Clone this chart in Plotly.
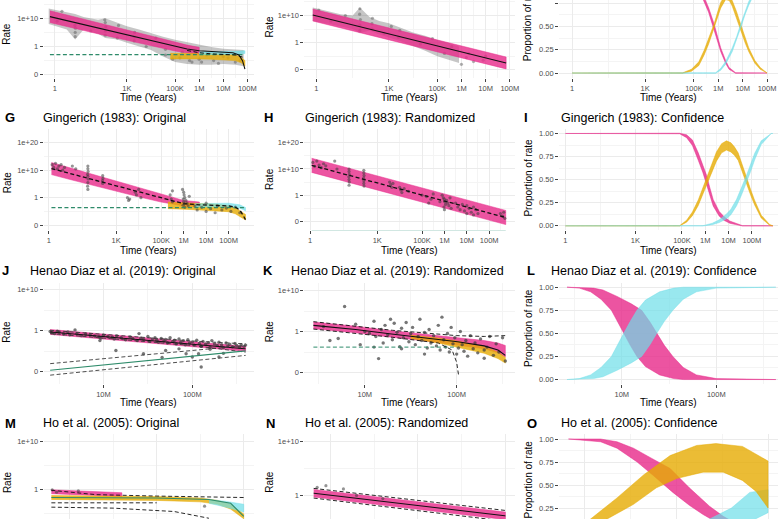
import plotly.graph_objects as go

W, H = 782, 521

# ---------------- colours ----------------
PINK = "rgba(231,41,138,0.80)"
YEL = "rgba(230,171,2,0.80)"
CYAN = "rgba(110,222,232,0.70)"
CLOUD = "rgba(105,105,105,0.38)"
PT = "rgba(60,60,60,0.55)"
GREEN = "#2E8B6A"
TEAL = "#6AB0A2"
BLACK = "#111111"
DGRAY = "#3a3a3a"

# ---------------- tick definitions ----------------
TIME_TICKS = [0, 3, 5, 6, 7, 8]
TIME_TEXT = ["1", "1K", "100K", "1M", "10M", "100M"]
TIME_MINOR = [1.5, 4, 5.5, 6.5, 7.5, 8.5]
HD_TICKS = [7, 8]
HD_TEXT = ["10M", "100M"]
HD_MINOR = [6.5, 7.5, 8.5]
HO_TICKS = [5, 6, 7]
HO_MINOR = [4.5, 5.5, 6.5]
RATE_TICKS = [0, 1, 2, 3]
RATE_TEXT = ["0", "1", "1e+10", "1e+20"]
RATE_MINOR = [-0.5, 0.5, 1.5, 2.5]
PROP_TICKS = [0, 0.25, 0.5, 0.75, 1.0]
PROP_TEXT = ["0.00", "0.25", "0.50", "0.75", "1.00"]
PROP_MINOR = [0.125, 0.375, 0.625, 0.875]

# ---------------- data (x = log10 years, y = display units) ----------------
# Panel D (top-left, original, cut)
d_cloud_lx = [-0.25, 0.5, 0.85, 1.2, 1.8, 2.1, 2.6, 3.0, 3.5, 4.0, 4.5, 5.0, 5.5, 6.0, 6.5, 7.0, 7.5, 7.85]
d_cloud_hi = [2.35, 2.2, 2.15, 2.05, 1.95, 2.0, 1.85, 1.72, 1.6, 1.47, 1.35, 1.24, 1.15, 1.06, 0.98, 0.92, 0.9, 0.88]
d_cloud_lo = [1.8, 1.6, 1.25, 1.6, 1.45, 1.3, 1.25, 1.13, 1.0, 0.88, 0.65, 0.45, 0.38, 0.35, 0.35, 0.38, 0.35, 0.3]
d_pts_lx = [0.85, 0.85, 0.86, 0.84, 2.1, 2.1, 2.12, 2.1, 2.08, 3.3, 3.3, 3.32, 4.6, 4.6, 5.2, 5.3, 5.6, 6.0, 6.1,
            6.3, 6.6, 7.2, 7.5, 0.1, 0.3, 1.5, 2.6, 2.65, 3.8, 4.2, 4.9, 5.7, 6.8, 7.0, 7.7]
d_pts_v = [1.35, 1.5, 1.65, 1.75, 1.4, 1.55, 1.7, 1.85, 1.95, 1.2, 1.35, 1.5, 0.7, 0.9, 0.6, 0.8, 0.5, 0.55, 0.45,
           0.7, 0.5, 0.6, 0.45, 1.9, 2.25, 1.55, 1.3, 1.75, 1.0, 1.3, 0.55, 0.45, 0.4, 0.65, 0.5]
d_pink_lx = [-0.2, 1, 2, 3, 4, 5, 5.5, 6.0]
d_pink_c = [2.06, 1.82, 1.61, 1.41, 1.2, 1.0, 0.91, 0.85]
d_pink_hw = [0.21, 0.2, 0.2, 0.19, 0.18, 0.16, 0.14, 0.12]
d_black_lx = [-0.2, 1, 2, 3, 4, 5, 5.5, 6.0, 6.5, 7.0, 7.4, 7.65, 7.8, 7.9]
d_black_v = [2.06, 1.82, 1.61, 1.41, 1.2, 1.0, 0.91, 0.85, 0.82, 0.8, 0.78, 0.7, 0.5, 0.2]
d_bdash_lx = [5.5, 6.0, 6.5, 7.0, 7.5, 7.9]
d_bdash_v = [0.86, 0.78, 0.74, 0.72, 0.7, 0.6]
d_gdash_lx = [-0.2, 7.9]
d_gdash_v = [0.71, 0.71]
d_yel_lx = [4.8, 5.5, 6.0, 6.5, 7.0, 7.5, 7.75, 7.9]
d_yel_c = [0.66, 0.66, 0.66, 0.65, 0.63, 0.6, 0.52, 0.4]
d_yel_hw = [0.1, 0.1, 0.1, 0.1, 0.1, 0.1, 0.1, 0.1]
d_cyan_lx = [6.0, 6.5, 7.0, 7.5, 7.9]
d_cyan_c = [0.76, 0.76, 0.77, 0.78, 0.8]
d_cyan_hw = [0.05, 0.05, 0.05, 0.05, 0.05]

# Panel E (top-middle, randomized, cut)
e_cloud_lx = [-0.15, 0.5, 1.0, 1.5, 1.8, 2.2, 2.6, 3.0, 3.5, 4.0, 4.5, 5.0, 5.5, 5.9]
e_cloud_hi = [2.3, 2.15, 2.05, 2.0, 2.3, 1.95, 1.8, 1.72, 1.55, 1.37, 1.25, 1.1, 0.98, 0.86]
e_cloud_lo = [1.8, 1.7, 1.6, 1.5, 1.35, 1.45, 1.3, 1.19, 1.05, 0.88, 0.7, 0.5, 0.35, 0.25]
e_pts_lx = [1.8, 1.8, 1.82, 1.79, 1.8, 2.3, 2.3, 2.32, 3.4, 3.45, 6.0, 6.2, 6.3, 6.5, 6.9, 7.0,
            0.1, 0.6, 1.2, 2.8, 3.1, 4.3, 4.8, 5.3, 5.6]
e_pts_v = [1.45, 1.65, 1.85, 2.05, 2.25, 1.5, 1.7, 1.9, 1.2, 1.45, 0.2, 0.45, 0.6, 0.3, 0.35, 0.5,
           2.2, 1.8, 2.0, 1.35, 1.6, 0.95, 1.15, 0.6, 0.85]
e_pink_lx = [-0.15, 7.85]
e_pink_c = [2.02, 0.25]
e_pink_hw = [0.22, 0.22]
e_teal_lx = [-0.15, 7.85]
e_teal_v = [-0.33, -0.33]

# Panel F (top-right, confidence, cut)
f_pink_lx = [0, 4.6, 5.0, 5.2, 5.42, 5.6, 5.83, 6.0, 6.1, 6.3, 6.44, 6.71, 8.0]
f_pink_c = [1.0, 1.0, 0.97, 0.92, 0.79, 0.68, 0.5, 0.34, 0.25, 0.12, 0.05, 0.0, 0.0]
f_pink_hw = [0.0, 0.005, 0.015, 0.02, 0.025, 0.025, 0.025, 0.025, 0.02, 0.015, 0.01, 0.003, 0.0]
f_yel_lx = [0, 4.54, 4.9, 5.2, 5.42, 5.6, 5.83, 6.0, 6.1, 6.3, 6.45, 6.57, 6.75, 6.91, 7.1, 7.25, 7.5, 7.72, 8.0]
f_yel_c = [0, 0.0, 0.03, 0.1, 0.22, 0.34, 0.5, 0.65, 0.73, 0.82, 0.81, 0.75, 0.63, 0.5, 0.35, 0.25, 0.12, 0.05, 0.0]
f_yel_hw = [0, 0.003, 0.01, 0.02, 0.025, 0.03, 0.03, 0.03, 0.03, 0.03, 0.03, 0.03, 0.03, 0.03, 0.025, 0.02, 0.015, 0.01, 0.0]
f_cyan_lx = [0, 5.89, 6.1, 6.3, 6.57, 6.75, 6.91, 7.1, 7.25, 7.5, 7.72, 8.0]
f_cyan_c = [0, 0.0, 0.04, 0.11, 0.25, 0.37, 0.5, 0.65, 0.75, 0.88, 0.95, 0.99]
f_cyan_hw = [0, 0.003, 0.01, 0.015, 0.02, 0.02, 0.02, 0.02, 0.02, 0.015, 0.01, 0.005]

# Panel G
g_pts_lx = [0.15, 0.22, 0.3, 0.38, 0.45, 0.55, 0.62, 0.7, 1.05, 1.2,
            1.74, 1.74, 1.75, 1.73, 1.74, 1.75, 1.74, 1.73, 1.74,
            2.4, 2.41, 2.39, 2.4, 3.5, 3.55, 3.6, 3.85, 3.9, 4.0, 4.1,
            5.4, 5.45, 5.5, 5.5, 5.95, 6.0, 6.02, 6.05, 5.98, 6.0, 6.03, 5.97, 6.05, 6.1, 6.15, 6.2, 6.25,
            6.5, 6.6, 6.8, 7.0, 7.0, 7.2, 7.4, 7.5, 7.7, 7.9, 8.1, 8.3, 8.5]
g_pts_v = [2.2, 2.1, 2.25, 2.05, 2.15, 2.2, 2.0, 2.1, 2.15, 2.05,
           2.15, 2.05, 1.95, 1.85, 1.78, 1.68, 1.55, 1.42, 1.3,
           1.8, 1.7, 1.62, 1.52, 1.0, 0.9, 0.95, 1.2, 1.1, 1.3, 1.0,
           1.1, 0.95, 1.25, 0.85, 1.3, 1.2, 1.1, 1.0, 0.95, 0.85, 0.78, 0.72, 0.65, 0.9, 0.8, 0.7, 1.05,
           0.7, 0.55, 0.65, 0.5, 0.8, 0.6, 0.45, 0.7, 0.55, 0.62, 0.5, 0.66, 0.45]
g_pink_lx = [0.12, 1, 2, 3, 4, 5, 5.5, 6.0, 6.7]
g_pink_c = [2.06, 1.86, 1.64, 1.42, 1.2, 0.98, 0.88, 0.8, 0.76]
g_pink_hw = [0.22, 0.21, 0.2, 0.19, 0.17, 0.14, 0.12, 0.1, 0.08]
g_bdash_lx = [0.12, 5.5, 6.0, 6.7, 7.5, 8.0, 8.3, 8.5, 8.65, 8.75]
g_bdash_v = [2.06, 0.88, 0.78, 0.74, 0.72, 0.7, 0.65, 0.55, 0.35, 0.2]
g_gdash_lx = [0.12, 8.75]
g_gdash_v = [0.64, 0.64]
g_yel_lx = [5.3, 6.0, 6.5, 7.0, 7.5, 8.0, 8.3, 8.5, 8.75]
g_yel_c = [0.72, 0.7, 0.68, 0.66, 0.64, 0.6, 0.52, 0.42, 0.29]
g_yel_hw = [0.12, 0.12, 0.12, 0.12, 0.12, 0.11, 0.11, 0.1, 0.1]
g_cyan_lx = [6.5, 7.0, 7.5, 8.0, 8.5, 8.75]
g_cyan_c = [0.72, 0.73, 0.74, 0.74, 0.68, 0.58]
g_cyan_hw = [0.06, 0.06, 0.06, 0.06, 0.06, 0.06]

# Panel H
h_pts_lx = [0.12, 0.2, 0.3, 0.4, 0.5, 0.6, 0.7, 1.1, 1.2,
            1.74, 1.74, 1.75, 1.73, 1.74, 1.75, 1.74,
            2.4, 2.4, 2.41, 2.39, 2.4, 2.4, 2.41,
            3.55, 3.6, 3.65, 3.7, 4.0, 4.05, 4.1, 4.2, 4.4,
            5.0, 5.2, 5.4, 5.5, 5.3,
            5.9, 5.95, 6.0, 6.02, 6.05, 5.98, 6.0, 6.1, 6.15, 6.2, 6.25, 6.3, 5.8,
            6.5, 6.6, 6.7, 6.8, 6.9, 7.0, 7.0, 7.1, 7.2, 7.3, 7.4, 7.5, 7.3,
            8.5, 8.6, 8.7, 8.65]
h_pts_v = [2.25, 2.1, 2.3, 2.15, 2.05, 2.2, 2.12, 2.3, 2.0,
           2.0, 1.9, 1.8, 1.7, 1.6, 1.5, 1.38,
           1.95, 1.85, 1.75, 1.65, 1.55, 1.45, 1.35,
           1.5, 1.4, 1.3, 1.45, 1.3, 1.2, 1.1, 1.25, 1.15,
           1.0, 0.95, 0.85, 1.05, 0.7,
           1.0, 0.9, 0.85, 0.75, 0.65, 0.55, 0.45, 0.8, 0.7, 0.6, 0.9, 0.5, 0.75,
           0.7, 0.55, 0.45, 0.65, 0.4, 0.6, 0.3, 0.5, 0.35, 0.55, 0.45, 0.3, 0.25,
           0.3, 0.2, 0.12, 0.35]
h_pink_lx = [0.07, 8.74]
h_pink_c = [2.14, 0.15]
h_pink_hw = [0.27, 0.27]
h_teal_lx = [0.07, 8.74]
h_teal_v = [-0.36, -0.36]

# Panel I
i_pink_lx = [0, 4.9, 5.2, 5.45, 5.7, 5.9, 6.06, 6.2, 6.34, 6.6, 6.8, 7.05, 7.3, 7.6, 8.9]
i_pink_c = [1.0, 1.0, 0.97, 0.9, 0.75, 0.62, 0.5, 0.37, 0.25, 0.13, 0.08, 0.04, 0.02, 0.0, 0.0]
i_pink_hw = [0, 0.003, 0.015, 0.03, 0.04, 0.045, 0.045, 0.04, 0.035, 0.025, 0.02, 0.012, 0.006, 0.002, 0]
i_yel_lx = [0, 4.9, 5.2, 5.45, 5.7, 5.9, 6.08, 6.3, 6.48, 6.7, 6.91, 7.1, 7.25, 7.41, 7.6, 7.76, 7.95, 8.12, 8.4, 8.76, 8.9]
i_yel_c = [0, 0.0, 0.05, 0.13, 0.25, 0.38, 0.5, 0.64, 0.75, 0.84, 0.87, 0.85, 0.81, 0.75, 0.62, 0.5, 0.36, 0.25, 0.1, 0.01, 0.0]
i_yel_hw = [0, 0.002, 0.01, 0.02, 0.03, 0.035, 0.04, 0.045, 0.05, 0.05, 0.05, 0.05, 0.045, 0.04, 0.04, 0.035, 0.03, 0.025, 0.015, 0.005, 0]
i_cyan_lx = [0, 5.9, 6.3, 6.6, 6.9, 7.1, 7.34, 7.55, 7.76, 7.95, 8.12, 8.4, 8.83, 8.9]
i_cyan_c = [0, 0.0, 0.02, 0.05, 0.1, 0.15, 0.25, 0.37, 0.5, 0.63, 0.75, 0.9, 1.0, 1.0]
i_cyan_hw = [0, 0.002, 0.008, 0.015, 0.025, 0.03, 0.035, 0.04, 0.04, 0.04, 0.035, 0.02, 0.0, 0.0]

# Panel J
j_pts_lx = [6.40, 6.42, 6.45, 6.48, 6.5, 6.55, 6.6, 6.62, 6.68, 6.7, 6.75, 6.8, 6.85, 6.9, 6.95, 6.97,
            7.0, 7.05, 7.1, 7.12, 7.15, 7.2, 7.25, 7.3, 7.33, 7.38, 7.4, 7.42, 7.45, 7.5, 7.52, 7.55,
            7.58, 7.6, 7.62, 7.65, 7.68, 7.7, 7.72, 7.75, 7.78, 7.8, 7.82, 7.85, 7.87, 7.9, 7.92, 7.95,
            7.97, 8.0, 8.02, 8.05, 8.08, 8.1, 8.12, 8.15, 8.18, 8.2, 8.22, 8.25, 8.28, 8.3, 8.33, 8.35,
            8.38, 8.4, 8.42, 8.45, 8.48, 8.5, 8.53, 8.55, 8.58, 8.6,
            7.14, 7.45, 7.66, 7.7, 7.85, 7.93, 8.0, 8.07, 8.1, 8.2, 8.3, 8.35, 8.1, 6.96]
j_pts_v = [0.98, 0.95, 0.93, 0.99, 0.96, 0.92, 0.97, 0.9, 1.02, 0.93, 0.88, 0.92, 0.9, 0.87, 0.85, 0.82,
           0.89, 0.86, 0.84, 0.8, 0.87, 0.83, 0.78, 0.85, 0.81, 0.76, 0.93, 0.82, 0.79, 0.86, 0.74, 0.8,
           0.83, 0.77, 0.72, 0.81, 0.75, 0.79, 0.7, 0.83, 0.74, 0.77, 0.68, 0.8, 0.72, 0.76, 0.66, 0.78,
           0.7, 0.73, 0.65, 0.77, 0.69, 0.62, 0.74, 0.67, 0.71, 0.6, 0.76, 0.68, 0.64, 0.72, 0.66, 0.59,
           0.7, 0.63, 0.67, 0.61, 0.69, 0.64, 0.6, 0.66, 0.62, 0.65,
           0.52, 0.44, 0.35, 0.52, 0.56, 0.44, 0.36, 0.44, 0.62, 0.55, 0.36, 0.45, 0.12, 0.76]
j_pink_lx = [6.4, 8.6]
j_pink_c = [0.97, 0.56]
j_pink_hw = [0.06, 0.06]
j_bup_lx = [6.4, 7.5, 8.0, 8.6]
j_bup_v = [1.01, 0.83, 0.75, 0.68]
j_blo_lx = [6.4, 7.5, 8.0, 8.6]
j_blo_v = [0.93, 0.74, 0.64, 0.48]
j_green_lx = [6.4, 8.6]
j_green_v = [0.04, 0.51]
j_gup_v = [0.2, 0.64]
j_glo_v = [-0.08, 0.4]

# Panel K
k_pts_lx = [6.55, 6.62, 6.71, 6.78, 6.9, 6.95, 7.0, 7.05, 7.1, 7.12, 7.15, 7.18, 7.2, 7.22, 7.25, 7.28,
            7.3, 7.32, 7.35, 7.38, 7.4, 7.42, 7.45, 7.48, 7.5, 7.52, 7.55, 7.58, 7.6, 7.62, 7.65, 7.68,
            7.7, 7.72, 7.75, 7.78, 7.8, 7.82, 7.84, 7.86, 7.88, 7.9, 7.92, 7.94, 7.96, 7.98, 8.0, 8.02,
            8.04, 8.06, 8.08, 8.1, 8.12, 8.15, 8.18, 8.2, 8.23, 8.26, 8.3, 8.33, 8.36, 8.4, 8.43, 8.46,
            8.5, 8.53, 8.3, 7.65, 7.4, 7.1]
k_pts_v = [1.12, 0.78, 0.83, 1.61, 1.18, 0.68, 1.0, 0.95, 1.25, 0.88, 0.34, 1.05, 0.72, 1.15, 0.92, 1.3,
           0.8, 1.2, 0.98, 0.63, 1.08, 0.85, 1.22, 0.75, 0.95, 1.1, 0.68, 0.88, 1.3, 0.78, 0.98, 0.6,
           1.05, 0.72, 0.9, 0.65, 1.15, 0.55, 1.35, 0.8, 0.62, 0.95, 0.5, 1.1, 0.7, 0.85, 0.45, 0.6,
           1.0, 0.68, 0.52, 0.78, 0.4, 0.9, 0.58, 0.72, 0.48, 0.82, 0.55, 0.62, 0.88, 0.42, 0.7, 0.5,
           0.85, 0.28, 0.35, 0.45, 0.58, 0.62]
k_pink_lx = [6.44, 6.9, 7.29, 7.7, 8.01, 8.3, 8.45, 8.53]
k_pink_c = [1.15, 1.05, 0.94, 0.84, 0.76, 0.68, 0.6, 0.52]
k_pink_hw = [0.08, 0.08, 0.08, 0.08, 0.09, 0.1, 0.12, 0.14]
k_black_v = [1.15, 1.05, 0.94, 0.84, 0.75, 0.65, 0.55, 0.42]
k_bup_lx = [6.44, 7.3, 8.0, 8.3, 8.53]
k_bup_v = [1.24, 1.03, 0.9, 0.88, 0.9]
k_blo_lx = [6.44, 7.3, 7.8, 7.95, 8.0, 8.02]
k_blo_v = [1.06, 0.86, 0.72, 0.55, 0.25, -0.05]
k_yel_lx = [7.5, 7.8, 8.0, 8.3, 8.45, 8.53]
k_yel_c = [0.87, 0.78, 0.7, 0.55, 0.42, 0.3]
k_yel_hw = [0.04, 0.06, 0.07, 0.08, 0.08, 0.07]
k_gdash_lx = [6.44, 8.0]
k_gdash_v = [0.62, 0.62]

# Panel L
l_pink_up_lx = [6.42, 6.7, 6.8, 6.95, 7.1, 7.21, 7.3, 7.37, 7.45, 7.54, 7.65, 7.79, 8.0, 8.63]
l_pink_up_v = [1.0, 0.99, 0.97, 0.9, 0.82, 0.75, 0.62, 0.5, 0.37, 0.25, 0.13, 0.05, 0.01, 0.0]
l_pink_lo_lx = [6.42, 6.55, 6.67, 6.78, 6.89, 6.95, 7.02, 7.09, 7.16, 7.25, 7.4, 7.55, 7.65, 8.63]
l_pink_lo_v = [1.0, 0.99, 0.95, 0.87, 0.75, 0.63, 0.5, 0.37, 0.25, 0.14, 0.05, 0.01, 0.0, 0.0]
l_cyan_lo_v = [0.0, 0.01, 0.03, 0.1, 0.18, 0.25, 0.38, 0.5, 0.63, 0.75, 0.87, 0.95, 0.99, 1.0]
l_cyan_hi_v = [0.0, 0.01, 0.05, 0.13, 0.25, 0.37, 0.5, 0.63, 0.75, 0.86, 0.95, 0.99, 1.0, 1.0]

# Panel M
m_pink_lx = [4.79, 5.2, 5.6]
m_pink_c = [0.96, 0.93, 0.9]
m_pink_hw = [0.04, 0.04, 0.04]
m_yel_lx = [4.79, 5.5, 6.0, 6.5, 6.7, 6.85, 7.0]
m_yel_c = [0.84, 0.83, 0.82, 0.79, 0.74, 0.65, 0.45]
m_yel_hw = [0.04, 0.04, 0.04, 0.04, 0.04, 0.05, 0.05]
m_cyan_lx = [6.6, 6.8, 7.0]
m_cyan_c = [0.76, 0.7, 0.62]
m_cyan_hw = [0.04, 0.06, 0.08]
m_green_lx = [4.79, 6.0, 6.6, 6.85, 7.0]
m_green_v = [0.84, 0.83, 0.8, 0.72, 0.45]
m_bup_lx = [4.79, 5.3, 6.0, 7.0]
m_bup_v = [0.99, 0.9, 0.87, 0.84]
m_blo1_lx = [4.79, 6.0]
m_blo1_v = [0.73, 0.73]
m_blo2_lx = [4.79, 5.5, 6.2, 6.6]
m_blo2_v = [0.64, 0.62, 0.55, 0.41]
m_pts_lx = [4.8, 4.85, 5.1, 6.55]
m_pts_v = [1.0, 0.95, 0.98, 0.66]

# Panel N
n_pink_lx = [4.81, 7.0]
n_pink_c = [1.04, 0.62]
n_pink_hw = [0.07, 0.07]
n_bup_v = [1.13, 0.72]
n_blo_v = [0.95, 0.52]
n_pts_lx = [4.85, 4.95, 5.15, 5.3, 5.6]
n_pts_v = [1.15, 1.18, 1.12, 1.0, 0.94]

# Panel O
o_pink_up_lx = [4.82, 5.17, 5.35, 5.53, 5.71, 5.93, 6.14, 6.36, 6.51, 6.62, 6.8, 7.0]
o_pink_up_v = [1.0, 1.0, 0.97, 0.9, 0.8, 0.68, 0.47, 0.27, 0.16, 0.1, 0.05, 0.02]
o_pink_lo_lx = [4.82, 5.17, 5.35, 5.57, 5.75, 5.96, 6.14, 6.29, 6.43, 6.6, 6.8, 7.0]
o_pink_lo_v = [1.0, 0.97, 0.9, 0.75, 0.6, 0.42, 0.28, 0.18, 0.1, 0.05, 0.02, 0.0]
o_yel_up_lx = [4.82, 5.06, 5.35, 5.64, 5.93, 6.22, 6.43, 6.72, 7.0]
o_yel_up_v = [0.0, 0.13, 0.36, 0.61, 0.82, 0.93, 0.95, 0.92, 0.76]
o_yel_lo_lx = [4.82, 5.24, 5.53, 5.78, 6.0, 6.29, 6.51, 6.72, 6.87, 7.0]
o_yel_lo_v = [0.0, 0.13, 0.29, 0.47, 0.57, 0.64, 0.64, 0.55, 0.43, 0.25]
o_cyan_up_lx = [6.0, 6.36, 6.6, 6.8, 7.0]
o_cyan_up_v = [0.0, 0.13, 0.25, 0.42, 0.45]
o_cyan_lo_lx = [6.0, 6.45, 6.8, 7.0]
o_cyan_lo_v = [0.0, 0.0, 0.1, 0.2]

# ---------------- panel geometry (pixels) and axis calibration ----------------
# rect = (x0, x1, ytop, ybottom); xcal = (px, lx, px/decade); ycal = (py, value, px/unit)
C1, C2, C3 = (44, 255), (306, 518), (562, 782)
R1, R2, R3, R4 = (0, 78), (129.4, 231.3), (283.7, 385.6), (436, 521)
panels = {
    1: dict(rect=C1 + R1, xcal=(55, 0, 24.2), ycal=(75, 0, 28.3), xk="time", yk="rate"),
    2: dict(rect=C2 + R1, xcal=(318, 0, 24.3), ycal=(70, 0, 27.2), xk="time", yk="rate"),
    3: dict(rect=C3 + R1, xcal=(575, 0, 24.5), ycal=(73.3, 0, 93.3), xk="time", yk="prop"),
    4: dict(rect=C1 + R2, xcal=(49, 0, 22.6), ycal=(226, 0, 27.57), xk="time", yk="rate"),
    5: dict(rect=C2 + R2, xcal=(311.7, 0, 22.5), ycal=(222.3, 0, 26.33), xk="time", yk="rate"),
    6: dict(rect=C3 + R2, xcal=(568.3, 0, 23.43), ycal=(226.7, 0, 92.7), xk="time", yk="prop"),
    7: dict(rect=C1 + R3, xcal=(104, 7, 89.3), ycal=(373.3, 0, 41.3), xk="hd", yk="rate"),
    8: dict(rect=C2 + R3, xcal=(366.7, 7, 92.3), ycal=(374, 0, 41.2), xk="hd", yk="rate"),
    9: dict(rect=C3 + R3, xcal=(625, 7, 95), ycal=(381, 0, 92.7), xk="hd", yk="prop"),
    10: dict(rect=C1 + R4, xcal=(70, 5, 87.5), ycal=(491.7, 1, 48.4), xk="ho", yk="rate"),
    11: dict(rect=C2 + R4, xcal=(332, 5, 88), ycal=(497.3, 1, 54), xk="ho", yk="rate"),
    12: dict(rect=C3 + R4, xcal=(680, 6, 92), ycal=(440.7, 1, 92.4), xk="ho", yk="prop"),
}

FONT = "Liberation Sans, Arial, Helvetica, sans-serif"
GRID = "#EBEBEB"
GRID_MINOR = "#F4F4F4"
TICKFONT = dict(size=7.5, color="#4D4D4D", family=FONT)

fig = go.Figure()
layout = dict(
    width=W, height=H, margin=dict(l=0, r=0, t=0, b=0),
    paper_bgcolor="white", plot_bgcolor="white", showlegend=False,
    font=dict(family=FONT, color="#000"),
)


def lx_at(p, px):
    c = p["xcal"]
    return c[1] + (px - c[0]) / c[2]


def v_at(p, py):
    c = p["ycal"]
    return c[1] + (c[0] - py) / c[2]


for k, p in panels.items():
    x0, x1, yt, yb = p["rect"]
    sfx = "" if k == 1 else str(k)
    if p["xk"] == "time":
        tv, tt, mv, show = TIME_TICKS, TIME_TEXT, TIME_MINOR, True
    elif p["xk"] == "hd":
        tv, tt, mv, show = HD_TICKS, HD_TEXT, HD_MINOR, True
    else:
        tv, tt, mv, show = HO_TICKS, [""] * len(HO_TICKS), HO_MINOR, False
    layout["xaxis" + sfx] = dict(
        domain=[x0 / W, x1 / W], anchor="y" + sfx, type="log",
        range=[lx_at(p, x0), lx_at(p, x1)],
        tickmode="array", tickvals=[10 ** t for t in tv], ticktext=tt,
        showgrid=True, gridcolor=GRID, gridwidth=1, zeroline=False, showline=False,
        ticks="outside" if show else "", ticklen=3, tickwidth=0.8, tickcolor="#444",
        showticklabels=show, tickfont=TICKFONT,
        minor=dict(tickvals=[10 ** t for t in mv], showgrid=True, gridcolor=GRID_MINOR, gridwidth=0.6, ticks=""),
        fixedrange=True,
    )
    if p["yk"] == "rate":
        tv, tt, mv = RATE_TICKS, RATE_TEXT, RATE_MINOR
    else:
        tv, tt, mv = PROP_TICKS, PROP_TEXT, PROP_MINOR
    layout["yaxis" + sfx] = dict(
        domain=[1 - yb / H, 1 - yt / H], anchor="x" + sfx,
        range=[v_at(p, yb), v_at(p, yt)],
        tickmode="array", tickvals=tv, ticktext=tt,
        showgrid=True, gridcolor=GRID, gridwidth=1, zeroline=False, showline=False,
        ticks="outside", ticklen=3, tickwidth=0.8, tickcolor="#444",
        tickfont=TICKFONT,
        minor=dict(tickvals=mv, showgrid=True, gridcolor=GRID_MINOR, gridwidth=0.6, ticks=""),
        fixedrange=True,
    )


def ax(k):
    s = "" if k == 1 else str(k)
    return dict(xaxis="x" + s, yaxis="y" + s)


def band_ul(k, lx_up, v_up, lx_lo, v_lo, color, lw=0.6):
    xs = [10 ** a for a in lx_up] + [10 ** a for a in lx_lo[::-1]]
    ys = list(v_up) + list(v_lo[::-1])
    fig.add_trace(go.Scatter(x=xs, y=ys, mode="lines", fill="toself", fillcolor=color,
                             line=dict(color=color, width=lw), hoverinfo="skip", **ax(k)))


def band_c(k, lx, c, hw, color, lw=0.6):
    up = [a + b for a, b in zip(c, hw)]
    lo = [a - b for a, b in zip(c, hw)]
    band_ul(k, lx, up, lx, lo, color, lw)


def line(k, lx, v, color, width=1.0, dash="solid"):
    fig.add_trace(go.Scatter(x=[10 ** a for a in lx], y=list(v), mode="lines",
                             line=dict(color=color, width=width, dash=dash), hoverinfo="skip", **ax(k)))


def pts(k, lx, v, color=PT, size=3.2):
    fig.add_trace(go.Scatter(x=[10 ** a for a in lx], y=list(v), mode="markers",
                             marker=dict(color=color, size=size, line=dict(width=0)), hoverinfo="skip", **ax(k)))


DASH = "4px,2.5px"

# Panel 1 (D)
band_ul(1, d_cloud_lx, d_cloud_hi, d_cloud_lx, d_cloud_lo, CLOUD, lw=0)
pts(1, d_pts_lx, d_pts_v, "rgba(80,80,80,0.45)")
band_c(1, d_pink_lx, d_pink_c, d_pink_hw, PINK)
band_c(1, d_yel_lx, d_yel_c, d_yel_hw, YEL)
band_c(1, d_cyan_lx, d_cyan_c, d_cyan_hw, CYAN)
line(1, d_gdash_lx, d_gdash_v, GREEN, 1.2, DASH)
line(1, d_bdash_lx, d_bdash_v, BLACK, 1.0, DASH)
line(1, d_black_lx, d_black_v, BLACK, 1.1)

# Panel 2 (E)
band_ul(2, e_cloud_lx, e_cloud_hi, e_cloud_lx, e_cloud_lo, CLOUD, lw=0)
pts(2, e_pts_lx, e_pts_v, "rgba(80,80,80,0.45)")
band_c(2, e_pink_lx, e_pink_c, e_pink_hw, PINK)
line(2, e_pink_lx, e_pink_c, BLACK, 1.1)
line(2, e_teal_lx, e_teal_v, TEAL, 1.0)

# Panel 3 (F)
band_c(3, f_pink_lx, f_pink_c, f_pink_hw, PINK)
band_c(3, f_yel_lx, f_yel_c, f_yel_hw, YEL)
band_c(3, f_cyan_lx, f_cyan_c, f_cyan_hw, CYAN)

# Panel 4 (G)
band_c(4, g_pink_lx, g_pink_c, g_pink_hw, PINK)
band_c(4, g_yel_lx, g_yel_c, g_yel_hw, YEL)
band_c(4, g_cyan_lx, g_cyan_c, g_cyan_hw, CYAN)
pts(4, g_pts_lx, g_pts_v)
line(4, g_gdash_lx, g_gdash_v, GREEN, 1.2, DASH)
line(4, g_bdash_lx, g_bdash_v, BLACK, 1.3, DASH)

# Panel 5 (H)
band_c(5, h_pink_lx, h_pink_c, h_pink_hw, PINK)
pts(5, h_pts_lx, h_pts_v)
line(5, h_pink_lx, h_pink_c, BLACK, 1.3, DASH)
line(5, h_teal_lx, h_teal_v, TEAL, 1.0)

# Panel 6 (I)
band_c(6, i_pink_lx, i_pink_c, i_pink_hw, PINK)
band_c(6, i_yel_lx, i_yel_c, i_yel_hw, YEL)
band_c(6, i_cyan_lx, i_cyan_c, i_cyan_hw, CYAN)

# Panel 7 (J)
band_c(7, j_pink_lx, j_pink_c, j_pink_hw, PINK)
pts(7, j_pts_lx, j_pts_v, "rgba(60,60,60,0.7)", 3.4)
line(7, j_pink_lx, j_pink_c, BLACK, 1.0)
line(7, j_bup_lx, j_bup_v, DGRAY, 0.9, DASH)
line(7, j_blo_lx, j_blo_v, DGRAY, 0.9, DASH)
line(7, j_green_lx, j_green_v, GREEN, 1.1)
line(7, j_green_lx, j_gup_v, DGRAY, 0.9, DASH)
line(7, j_green_lx, j_glo_v, DGRAY, 0.9, DASH)

# Panel 8 (K)
band_c(8, k_pink_lx, k_pink_c, k_pink_hw, PINK)
band_c(8, k_yel_lx, k_yel_c, k_yel_hw, YEL)
pts(8, k_pts_lx, k_pts_v, "rgba(60,60,60,0.7)", 3.4)
line(8, k_gdash_lx, k_gdash_v, GREEN, 1.0, DASH)
line(8, k_pink_lx, k_black_v, BLACK, 1.1)
line(8, k_bup_lx, k_bup_v, BLACK, 0.9, DASH)
line(8, k_blo_lx, k_blo_v, BLACK, 0.9, DASH)

# Panel 9 (L)
band_ul(9, l_pink_up_lx, l_pink_up_v, l_pink_lo_lx, l_pink_lo_v, PINK)
band_ul(9, l_pink_lo_lx, l_cyan_hi_v, l_pink_up_lx, l_cyan_lo_v, CYAN)

# Panel 10 (M)
band_c(10, m_pink_lx, m_pink_c, m_pink_hw, PINK)
band_c(10, m_yel_lx, m_yel_c, m_yel_hw, YEL)
band_c(10, m_cyan_lx, m_cyan_c, m_cyan_hw, CYAN)
pts(10, m_pts_lx, m_pts_v)
line(10, m_green_lx, m_green_v, GREEN, 1.1)
line(10, m_bup_lx, m_bup_v, BLACK, 0.9, DASH)
line(10, m_blo1_lx, m_blo1_v, BLACK, 0.9, DASH)
line(10, m_blo2_lx, m_blo2_v, BLACK, 0.9, DASH)

# Panel 11 (N)
band_c(11, n_pink_lx, n_pink_c, n_pink_hw, PINK)
pts(11, n_pts_lx, n_pts_v)
line(11, n_pink_lx, n_pink_c, BLACK, 1.0)
line(11, n_pink_lx, n_bup_v, BLACK, 0.9, DASH)
line(11, n_pink_lx, n_blo_v, BLACK, 0.9, DASH)

# Panel 12 (O)
band_ul(12, o_pink_up_lx, o_pink_up_v, o_pink_lo_lx, o_pink_lo_v, PINK)
band_ul(12, o_cyan_up_lx, o_cyan_up_v, o_cyan_lo_lx, o_cyan_lo_v, CYAN)
band_ul(12, o_yel_up_lx, o_yel_up_v, o_yel_lo_lx, o_yel_lo_v, YEL)

# ---------------- text ----------------
ann = []


def text(px, py, s, size, anchor="left", bold=False, angle=0, color="#000"):
    ann.append(dict(x=px / W, y=1 - py / H, xref="paper", yref="paper", text=("<b>%s</b>" % s) if bold else s,
                    showarrow=False, xanchor=anchor, yanchor="middle", textangle=angle,
                    font=dict(size=size, color=color, family=FONT)))


titles = [
    (3, 118, "G", 41.7, "Gingerich (1983): Original"),
    (263, 118, "H", 305, "Gingerich (1983): Randomized"),
    (525, 118, "I", 561.7, "Gingerich (1983): Confidence"),
    (0, 272, "J", 28.3, "Henao Diaz et al. (2019): Original"),
    (262, 272, "K", 290, "Henao Diaz et al. (2019): Randomized"),
    (528, 272, "L", 551.7, "Henao Diaz et al. (2019): Confidence"),
    (3, 425, "M", 41.7, "Ho et al. (2005): Original"),
    (265, 425, "N", 305, "Ho et al. (2005): Randomized"),
    (528, 425, "O", 561.7, "Ho et al. (2005): Confidence"),
]
for lxp, ty, letter, tx, t in titles:
    text(lxp, ty, letter, 13, bold=True)
    text(tx, ty, t, 12.5)

# x-axis titles
for cx in (149.5, 412, 672):
    for ty in (98, 251.5, 404.5):
        text(cx, ty, "Time (Years)", 10, anchor="center")

# y-axis titles
for (cx, cy) in [(7, 34), (271, 27), (7, 183), (271, 180), (7, 333), (271, 333), (7, 484), (271, 484)]:
    text(cx, cy, "Rate", 10, anchor="center", angle=-90)
for (cx, cy) in [(531, 22), (531, 178), (531, 329), (531, 481)]:
    text(cx, cy, "Proportion of rate", 10, anchor="center", angle=-90)

layout["annotations"] = ann
fig.update_layout(**layout)
fig.write_html("out.html", config={"displayModeBar": False},
               post_script="document.body.style.margin='0';document.body.style.overflow='hidden';")
